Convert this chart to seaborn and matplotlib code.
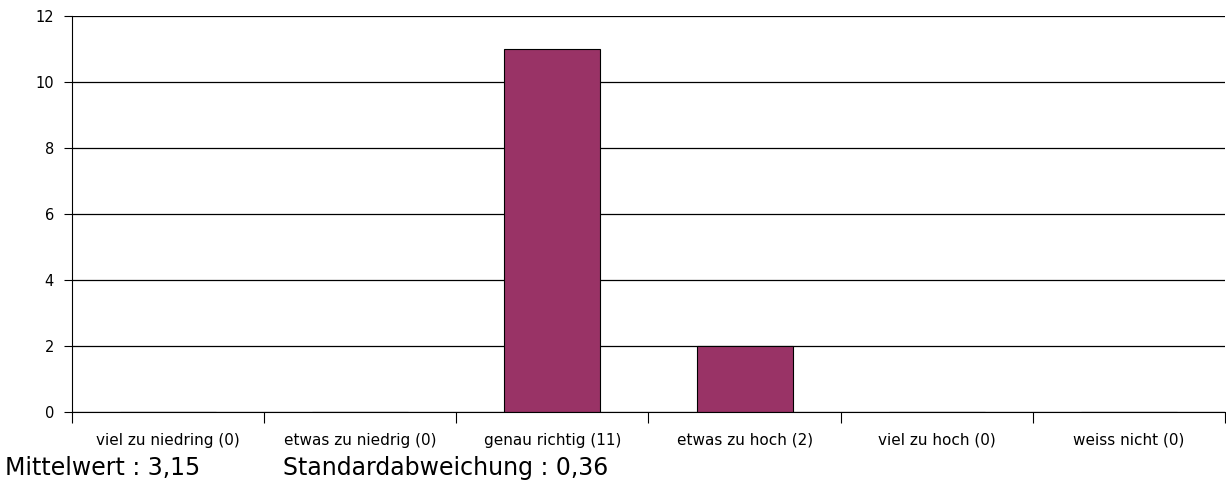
import matplotlib

matplotlib.use("Agg")

import matplotlib.pyplot as plt
import numpy as np
import pandas as pd
import seaborn as sns

categories = [
    "viel zu niedring (0)",
    "etwas zu niedrig (0)",
    "genau richtig (11)",
    "etwas zu hoch (2)",
    "viel zu hoch (0)",
    "weiss nicht (0)",
]
counts = [0, 0, 11, 2, 0, 0]
y_ticks = [0, 2, 4, 6, 8, 10, 12]
mean_text = "Mittelwert : 3,15"
std_text = "Standardabweichung : 0,36"

df = pd.DataFrame({"category": categories, "count": counts})

sns.set_theme(style="white")
plt.rcParams["font.family"] = ["DejaVu Sans"]

fig = plt.figure(figsize=(12.26, 4.94), dpi=100)
ax = fig.add_axes([0.0587, 0.166, 0.9405, 0.802])

ax.yaxis.grid(True, color="black", linewidth=0.9)
ax.set_axisbelow(True)

sns.barplot(
    data=df, x="category", y="count", color="#993366", saturation=1,
    width=0.5, edgecolor="black", linewidth=0.8, ax=ax,
)

ax.set_xlim(-0.5, len(categories) - 0.5)
ax.set_ylim(0, 12)
ax.set_yticks(y_ticks)
ax.set_xlabel("")
ax.set_ylabel("")

# labels at the centres, tick marks at the category boundaries
ax.set_xticks(np.arange(len(categories)))
ax.set_xticklabels(categories, fontsize=11, color="black")
ax.set_xticks(np.arange(len(categories) + 1) - 0.5, minor=True)
ax.tick_params(axis="x", which="major", length=0, pad=15)
ax.tick_params(axis="x", which="minor", length=8, width=0.8, color="black", bottom=True)
ax.tick_params(axis="y", length=6, width=0.8, color="black", left=True,
               labelsize=10.5, labelcolor="black", pad=7)

for side in ["top", "right"]:
    ax.spines[side].set_visible(False)
for side in ["left", "bottom"]:
    ax.spines[side].set_color("black")
    ax.spines[side].set_linewidth(0.8)

fig.text(0.004, 0.053, mean_text, fontsize=17, va="center", color="black")
fig.text(0.231, 0.053, std_text, fontsize=17, va="center", color="black")

fig.savefig("out.png", dpi=100)
